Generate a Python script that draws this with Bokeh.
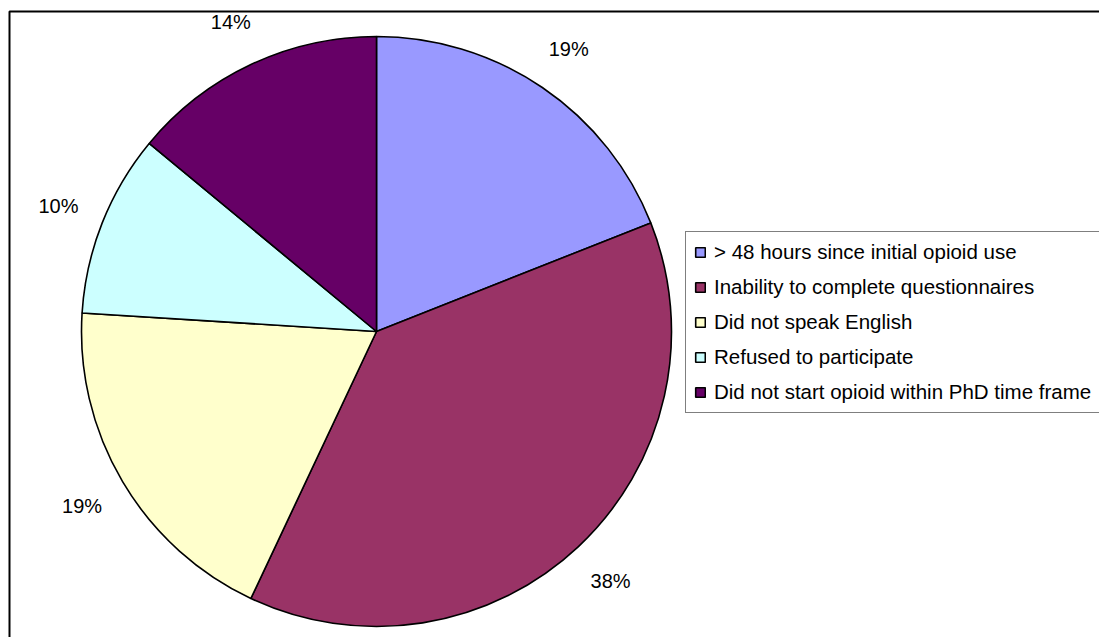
import math
from bokeh.plotting import figure
from bokeh.models import Range1d, ColumnDataSource, Legend, LegendItem
from bokeh.core.properties import value
from bokeh.embed import file_html
from bokeh.resources import INLINE

categories = [
    "> 48 hours since initial opioid use",
    "Inability to complete questionnaires",
    "Did not speak English",
    "Refused to participate",
    "Did not start opioid within PhD time frame",
]
percents = [19, 38, 19, 10, 14]
colors = ["#9999FF", "#993366", "#FFFFCC", "#CCFFFF", "#660066"]

W, H = 1099, 637
CX, CY, R = 376, H - 331, 295
LABEL_R = 342
FONT = "Liberation Sans"

total = float(sum(percents))
starts, ends, lx, ly, labels = [], [], [], [], []
cum = 0.0
for v in percents:
    a0 = math.pi / 2 - 2 * math.pi * cum / total
    cum += v
    a1 = math.pi / 2 - 2 * math.pi * cum / total
    starts.append(a0)
    ends.append(a1)
    mid = (a0 + a1) / 2
    lx.append(CX + LABEL_R * math.cos(mid))
    ly.append(CY + LABEL_R * math.sin(mid))
    labels.append(f"{v}%")

src = ColumnDataSource(dict(cat=categories, start=starts, end=ends, color=colors,
                            lx=lx, ly=ly, lab=labels,
                            x=[CX] * len(categories), y=[CY] * len(categories)))

p = figure(width=W, height=H, x_range=Range1d(0, W), y_range=Range1d(0, H),
           x_axis_type=None, y_axis_type=None, toolbar_location=None,
           output_backend="svg", min_border=0, outline_line_color=None,
           background_fill_color="white", border_fill_color="white")
p.grid.visible = False

# chart frame (left and top edges visible in the reference)
p.line(x=[9, 9, W], y=[0, H - 11, H - 11], line_color="black", line_width=2)

wedges = p.wedge(x="x", y="y", radius=R, radius_units="screen",
                 start_angle="start", end_angle="end", direction="clock",
                 fill_color="color", line_color="black", line_width=1.6, source=src)

p.text(x="lx", y="ly", text="lab", source=src, text_align="center",
       text_baseline="middle", text_font=value(FONT), text_font_size="20px",
       text_color="black")

items = [LegendItem(label=c, renderers=[wedges], index=i) for i, c in enumerate(categories)]
legend = Legend(items=items, location=(685, H - 413), orientation="vertical",
                glyph_width=12, glyph_height=12, label_height=21, spacing=11,
                padding=8, margin=0, label_standoff=8,
                label_text_font=FONT, label_text_font_size="20.5px",
                label_text_color="black", border_line_color="black",
                border_line_width=1.5, background_fill_color="white",
                background_fill_alpha=1.0)
p.add_layout(legend, "center")

open("out.html", "w").write(file_html(p, INLINE))
